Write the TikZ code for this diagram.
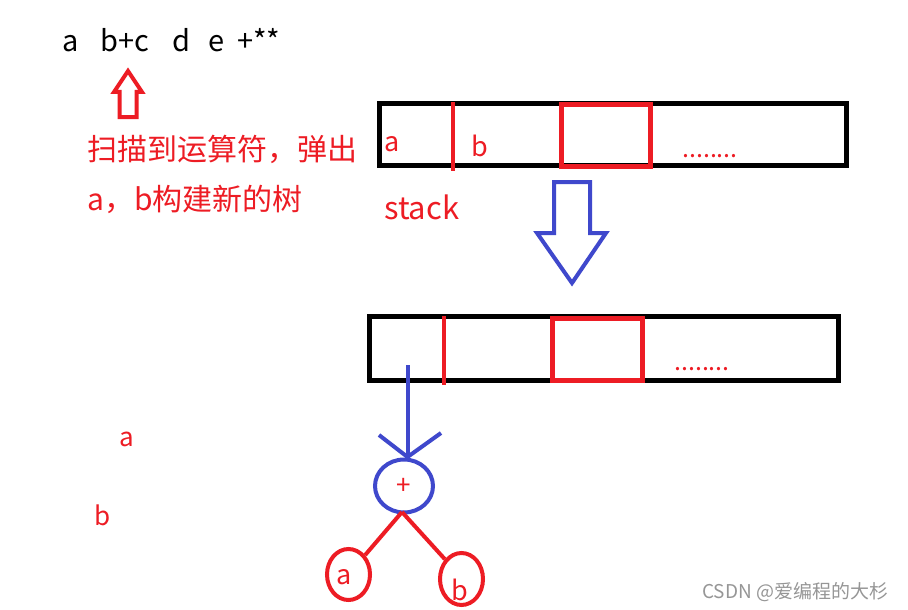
\documentclass[tikz,border=0pt]{standalone}
\usepackage{fontspec}
\setmainfont{Noto Sans CJK SC}
\usetikzlibrary{shapes.geometric}
\definecolor{myred}{RGB}{237,28,36}
\definecolor{myblue}{RGB}{63,72,204}
\definecolor{mygrey}{RGB}{150,150,150}
\begin{document}
\begin{tikzpicture}[x=1pt,y=-1pt,
  txt/.style={inner sep=0pt,anchor=base west},
  redtxt/.style={txt,text=myred,font=\fontsize{27}{32}\selectfont},
  cjktxt/.style={txt,text=myred,font=\fontsize{30}{36}\selectfont},
  dots/.style={txt,text=myred,font=\fontsize{25}{30}\selectfont},
  boxline/.style={line width=5pt,draw=black},
  redline/.style={line width=4.5pt,draw=myred},
  blueline/.style={line width=4pt,draw=myblue},
  thinred/.style={line width=4pt,draw=myred},
  ell/.style={ellipse,line width=4pt,inner sep=0pt}]
\useasboundingbox[fill=white] (0,0) rectangle (908,610);
% top expression
\node[txt,font=\fontsize{29}{34}\selectfont] (expr) at (62,52) {\makebox[38pt][l]{a}\makebox[72pt][l]{b+c}\makebox[36pt][l]{d}\makebox[29pt][l]{e}+**};
% red hollow up arrow
\draw[thinred,line join=miter] (119.5,117) -- (119.5,92) -- (114,92) -- (128,71) -- (142,92) -- (136.5,92) -- (136.5,117) -- cycle;
% chinese text
\node[cjktxt] (t1) at (87,160) {扫描到运算符，弹出};
\node[cjktxt] (t2) at (87,210) {a，b构建新的树};
% top stack
\draw[boxline] (379,103.5) rectangle (846,165.5);
\draw[redline] (453,102) -- (453,171);
\draw[redline] (561.5,104.5) rectangle (650.5,166.5);
\node[redtxt] (sa) at (384,151) {a};
\node[redtxt] (sb) at (471,156) {b};
\node[dots] (sdots) at (682,157) {........};
\node[redtxt,font=\fontsize{31}{36}\selectfont] (stack) at (384,219) {stack};
% blue hollow down arrow
\draw[blueline,line join=miter] (554,182) -- (590,182) -- (590,233) -- (606,233) -- (572,283) -- (537,233) -- (554,233) -- cycle;
% second stack
\draw[boxline] (369.5,316.5) rectangle (838.5,380.5);
\draw[redline] (444,316) -- (444,385);
\draw[redline] (552.5,318.5) rectangle (642.5,380.5);
\node[dots] (sdots2) at (674,370) {........};
% tree
\node[ell,draw=myblue,minimum width=58pt,minimum height=53pt,text=myred,font=\fontsize{26}{30}\selectfont] (plus) at (404,486) {+};
\node[ell,draw=myred,minimum width=43pt,minimum height=51pt] (na) at (348.5,574.5) {};
\node[redtxt] (la) at (336,584) {a};
\node[ell,draw=myred,minimum width=43pt,minimum height=52pt] (nb) at (461.5,579) {};
\node[redtxt] (lb) at (451,600) {b};
\coordinate (cstart) at (407.5,365);
\coordinate (ctip) at (407.5,457);
\coordinate (hl) at (379,435);
\coordinate (hr) at (441,433);
\coordinate (pb) at (402,512);
\draw[blueline] (cstart) -- (ctip);
\draw[blueline] (hl) -- (ctip) -- (hr);
\draw[thinred] (pb) -- (na.north east);
\draw[thinred] (pb) -- (nb.north west);
% left a b
\node[redtxt,font=\fontsize{26}{30}\selectfont] (ea) at (119,446) {a};
\node[redtxt,font=\fontsize{26}{30}\selectfont] (eb) at (94,525) {b};
% watermark
\node[txt,text=mygrey,font=\fontsize{19}{22}\selectfont] (wm) at (702,598) {CSDN @爱编程的大杉};
\end{tikzpicture}
\end{document}
